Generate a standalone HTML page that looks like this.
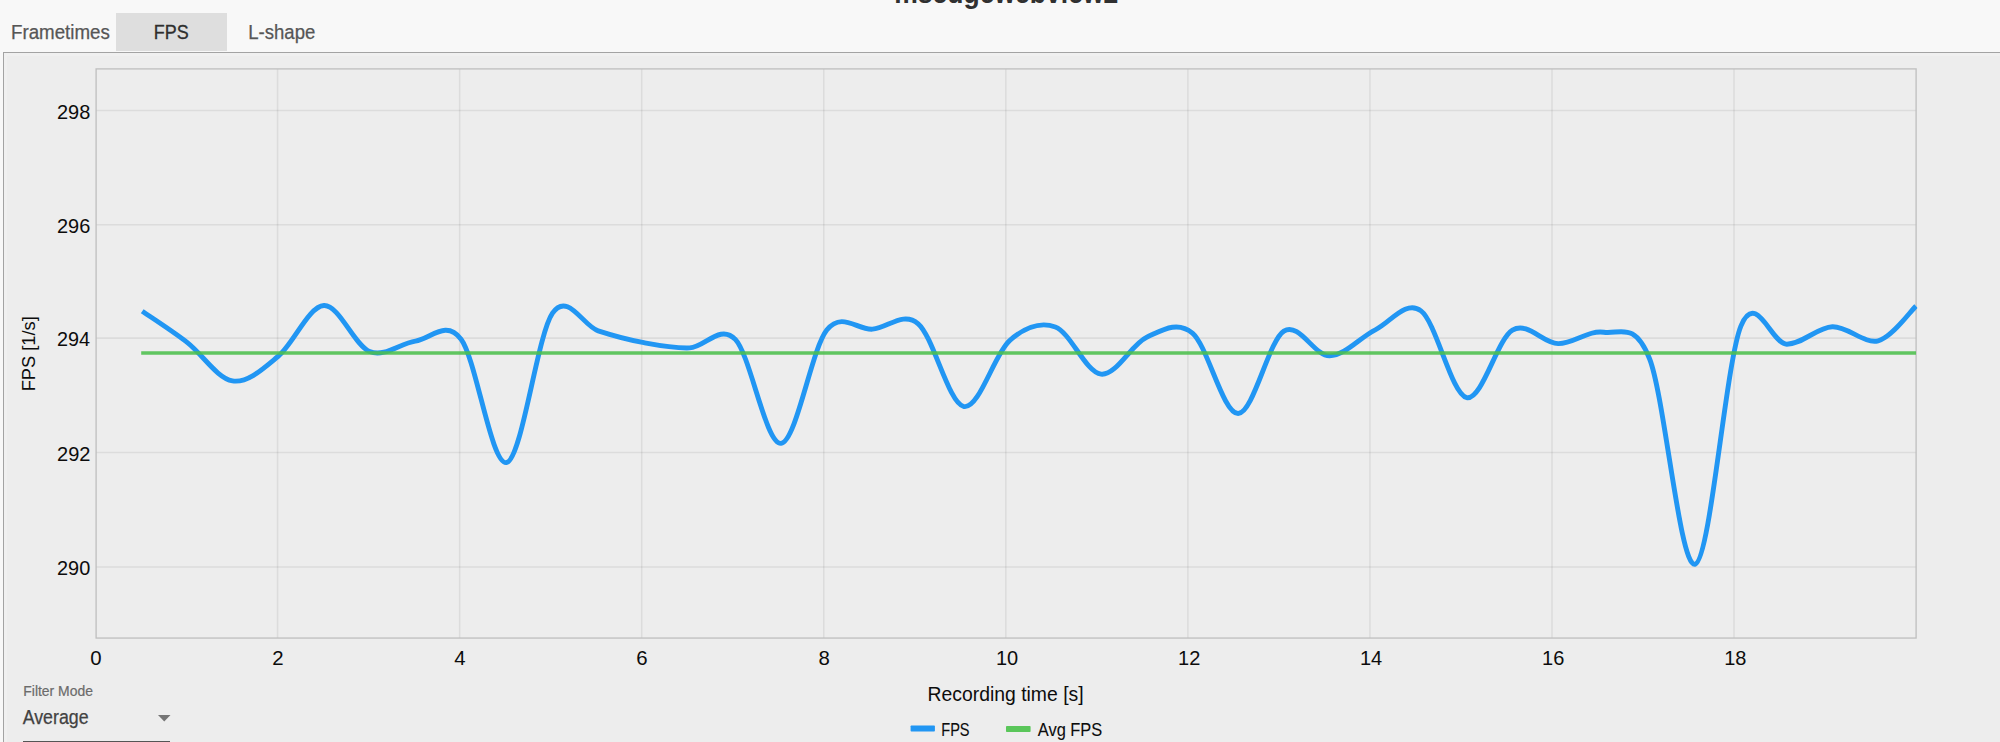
<!DOCTYPE html>
<html lang="en"><head><meta charset="utf-8"><title>msedgewebview2 - FPS</title>
<style>
html,body{margin:0;padding:0}
body{width:2000px;height:742px;overflow:hidden;position:relative;background:#f8f8f8;font-family:"Liberation Sans",sans-serif}
.t{position:absolute;left:0;top:0;line-height:0;white-space:nowrap;transform-origin:0 0;margin:0;padding:0}
.tabbg{position:absolute;left:116px;top:13px;width:111px;height:38px;background:#dedede}
.panel{position:absolute;left:3px;top:52px;width:2010px;height:700px;background:#ededed;border:1px solid #a3a3a3;box-sizing:border-box;box-shadow:inset 0 0 0 3px #f0f0f0}
svg{position:absolute;left:0;top:0}
.stage{position:absolute;left:-4px;top:-53px;width:2000px;height:742px}
figure,figcaption{margin:0;padding:0;display:block}
.ul{position:absolute;left:22.6px;top:740.7px;width:147.6px;height:2px;background:#555}
</style></head>
<body>
<header class="head" aria-label="Process name"><div class="t title" style="font-size:26.50px;color:#303030;font-weight:bold;transform:translate(894.28px,2.80px) scale(1.0005,1.1200) translateY(-9.00px)">msedgewebview2</div></header>
<nav class="tabs" role="tablist" aria-label="Graph type"><div class="tab" role="tab"><div class="t " style="font-size:19.30px;color:#565656;-webkit-text-stroke:0.25px #565656;transform:translate(11.00px,33.00px) scaleX(0.9714)">Frametimes</div></div><div class="tab sel" role="tab" aria-selected="true"><div class="tabbg"></div><div class="t " style="font-size:19.30px;color:#2e2e2e;-webkit-text-stroke:0.3px #2e2e2e;transform:translate(153.76px,33.00px) scaleX(0.9295)">FPS</div></div><div class="tab" role="tab"><div class="t " style="font-size:19.30px;color:#565656;-webkit-text-stroke:0.25px #565656;transform:translate(248.21px,33.00px) scaleX(0.9628)">L-shape</div></div></nav>
<main class="panel" role="tabpanel" aria-label="FPS graph"><div class="stage">
<figure class="chart" aria-label="FPS over recording time">
<svg width="2000" height="742" viewBox="0 0 2000 742" role="img" aria-label="FPS line chart">
<g class="grid" stroke="rgba(0,0,0,0.072)" stroke-width="1.55" fill="none"><line x1="277.56" y1="68.9" x2="277.56" y2="638.0"/><line x1="459.62" y1="68.9" x2="459.62" y2="638.0"/><line x1="641.68" y1="68.9" x2="641.68" y2="638.0"/><line x1="823.74" y1="68.9" x2="823.74" y2="638.0"/><line x1="1005.80" y1="68.9" x2="1005.80" y2="638.0"/><line x1="1187.86" y1="68.9" x2="1187.86" y2="638.0"/><line x1="1369.92" y1="68.9" x2="1369.92" y2="638.0"/><line x1="1551.98" y1="68.9" x2="1551.98" y2="638.0"/><line x1="1734.04" y1="68.9" x2="1734.04" y2="638.0"/><line x1="96.1" y1="110.45" x2="1916.1" y2="110.45"/><line x1="96.1" y1="224.80" x2="1916.1" y2="224.80"/><line x1="96.1" y1="338.10" x2="1916.1" y2="338.10"/><line x1="96.1" y1="452.45" x2="1916.1" y2="452.45"/><line x1="96.1" y1="567.00" x2="1916.1" y2="567.00"/></g>
<rect class="plot-border" x="96.1" y="68.9" width="1820.00" height="569.15" fill="none" stroke="#bebebe" stroke-width="1.3"/>
<clipPath id="cp"><rect x="96.1" y="68.9" width="1821.50" height="569.15"/></clipPath>
<g class="series" clip-path="url(#cp)" fill="none" stroke-linejoin="round">
<path class="fps" d="M142.19 311.21C150.70 317.02 172.24 330.89 186.81 342.11C202.05 353.84 217.29 378.51 232.52 380.87C247.76 383.23 263.00 368.81 278.23 356.26C293.47 343.70 308.71 306.32 323.94 305.54C339.18 304.76 354.42 345.65 369.66 351.58C384.89 357.51 400.13 343.19 415.37 341.12C430.60 339.06 445.84 318.97 461.08 339.19C476.31 359.41 491.55 466.80 506.79 462.45C522.03 458.10 537.26 335.00 552.50 313.07C567.74 291.13 582.97 325.90 598.21 330.84C613.45 335.78 628.68 339.86 643.92 342.71C659.16 345.56 674.40 348.47 689.63 347.92C704.87 347.37 720.11 323.49 735.34 339.39C750.58 355.29 765.82 444.88 781.05 443.32C796.29 441.76 811.53 349.04 826.77 330.02C842.00 311.00 857.24 330.21 872.48 329.17C887.71 328.13 902.95 310.86 918.19 323.76C933.42 336.66 948.66 403.75 963.90 406.55C979.14 409.35 994.37 353.84 1009.61 340.58C1024.85 327.31 1040.08 321.37 1055.32 326.96C1070.56 332.55 1085.79 372.42 1101.03 374.12C1116.27 375.82 1131.51 344.03 1146.74 337.18C1161.98 330.33 1177.22 320.31 1192.45 333.03C1207.69 345.75 1222.93 413.84 1238.16 413.51C1253.40 413.18 1268.64 340.68 1283.88 331.07C1299.11 321.46 1314.35 356.06 1329.59 355.85C1344.82 355.65 1360.06 337.34 1375.30 329.84C1390.53 322.34 1405.77 299.56 1421.01 310.85C1436.25 322.14 1451.48 394.38 1466.72 397.59C1481.96 400.80 1497.19 339.13 1512.43 330.14C1527.67 321.15 1542.90 343.31 1558.14 343.66C1573.38 344.01 1588.62 329.75 1603.85 332.26C1619.09 334.77 1634.33 320.07 1649.56 358.73C1664.80 397.39 1680.04 569.67 1695.27 564.19C1710.51 558.71 1725.75 362.50 1740.99 325.83C1756.22 289.16 1771.46 344.04 1786.70 344.20C1801.93 344.36 1817.17 327.37 1832.41 326.80C1847.64 326.23 1864.19 344.23 1878.12 340.78C1892.05 337.33 1909.69 311.89 1916.00 306.11" stroke="#2196f3" stroke-width="4.9"/>
<path class="avg" d="M141.2 352.9H1916" stroke="rgba(76,191,76,0.88)" stroke-width="3.5"/>
</g>
<rect class="swatch" x="910.6" y="725.5" width="24.3" height="6.1" rx="0.8" fill="#2196f3"/>
<rect class="swatch" x="1006" y="726.0" width="24.6" height="6.1" rx="0.8" fill="#5ac65a"/>
<path class="caret" d="M158 715h12.5l-6.25 6.4z" fill="#757575"/>
</svg>
<div class="axes"><div class="t yl" style="font-size:20.00px;color:#0c0c0c;transform:translate(57.00px,112.00px) scaleX(0.9985)">298</div><div class="t yl" style="font-size:20.00px;color:#0c0c0c;transform:translate(57.00px,226.00px) scaleX(0.9985)">296</div><div class="t yl" style="font-size:20.00px;color:#0c0c0c;transform:translate(57.01px,339.00px) scaleX(0.9891)">294</div><div class="t yl" style="font-size:20.00px;color:#0c0c0c;transform:translate(57.00px,454.00px) scaleX(1.0017)">292</div><div class="t yl" style="font-size:20.00px;color:#0c0c0c;transform:translate(57.00px,568.00px) scaleX(0.9954)">290</div><div class="t xl" style="font-size:20.00px;color:#0c0c0c;transform:translate(90.14px,658.00px) scaleX(1.0200)">0</div><div class="t xl" style="font-size:20.00px;color:#0c0c0c;transform:translate(272.15px,658.00px) scaleX(1.0200)">2</div><div class="t xl" style="font-size:20.00px;color:#0c0c0c;transform:translate(454.31px,658.00px) scaleX(1.0200)">4</div><div class="t xl" style="font-size:20.00px;color:#0c0c0c;transform:translate(636.22px,658.00px) scaleX(1.0200)">6</div><div class="t xl" style="font-size:20.00px;color:#0c0c0c;transform:translate(818.38px,658.00px) scaleX(1.0200)">8</div><div class="t xl" style="font-size:20.00px;color:#0c0c0c;transform:translate(995.89px,658.00px) scaleX(1.0000)">10</div><div class="t xl" style="font-size:20.00px;color:#0c0c0c;transform:translate(1178.05px,658.00px) scaleX(1.0000)">12</div><div class="t xl" style="font-size:20.00px;color:#0c0c0c;transform:translate(1359.91px,658.00px) scaleX(1.0000)">14</div><div class="t xl" style="font-size:20.00px;color:#0c0c0c;transform:translate(1542.12px,658.00px) scaleX(1.0000)">16</div><div class="t xl" style="font-size:20.00px;color:#0c0c0c;transform:translate(1724.18px,658.00px) scaleX(1.0000)">18</div><div class="t axt" style="font-size:19.60px;color:#0c0c0c;transform:translate(927.55px,694.00px) scaleX(0.9881)">Recording time [s]</div><div class="t ayt" style="font-size:18.90px;color:#0c0c0c;transform:translate(29.00px,391.36px) rotate(-90deg) scaleX(0.9663)">FPS [1/s]</div></div>
<figcaption class="legend"><div class="t lg" style="font-size:18.90px;color:#0c0c0c;-webkit-text-stroke:0.12px #0c0c0c;transform:translate(941.23px,730.00px) scaleX(0.7721)">FPS</div><div class="t lg" style="font-size:18.90px;color:#0c0c0c;-webkit-text-stroke:0.1px #0c0c0c;transform:translate(1037.80px,730.00px) scaleX(0.8687)">Avg FPS</div></figcaption>
</figure>
<div class="filter" role="combobox" aria-label="Filter Mode"><div class="t fl" style="font-size:14.20px;color:#6b6b6b;-webkit-text-stroke:0.2px #6b6b6b;transform:translate(23.29px,691.00px) scaleX(0.9812)">Filter Mode</div><div class="t fv" style="font-size:19.30px;color:#424242;-webkit-text-stroke:0.25px #424242;transform:translate(22.70px,718.00px) scaleX(0.9217)">Average</div><div class="ul"></div></div>
</div></main>
</body></html>
